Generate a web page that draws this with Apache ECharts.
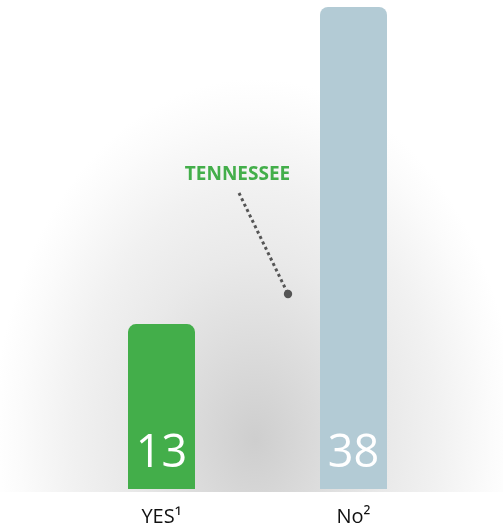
<!DOCTYPE html>
<html>
<head>
<meta charset="utf-8">
<style>
  html, body { margin: 0; padding: 0; background: #ffffff; }
  #chart { width: 503px; height: 531px; }
</style>
<script src="https://cdn.jsdelivr.net/npm/echarts@6/dist/echarts.min.js"></script>
</head>
<body>
<div id="chart"></div>
<script>
// Answer categories (with footnote markers) and counts
const categories = ['YES¹', 'No²'];
const counts = [13, 38];
const barColors = ['#43ae4a', '#b3cbd5'];
const calloutText = 'TENNESSEE';

const FONT = '"Open Sans", "Noto Sans", sans-serif';

const chart = echarts.init(document.getElementById('chart'), null, { renderer: 'canvas' });

const option = {
  animation: false,
  backgroundColor: '#ffffff',
  grid: { left: 65.5, right: 53.5, top: 7, bottom: 42, containLabel: false },
  xAxis: {
    type: 'category',
    data: categories,
    axisLine: { show: false },
    axisTick: { show: false },
    axisLabel: {
      color: '#111111',
      fontFamily: FONT,
      fontSize: 20,
      margin: 18
    }
  },
  yAxis: {
    type: 'value',
    min: 0,
    max: 38,
    show: false,
    splitLine: { show: false }
  },
  graphic: [
    // soft grey glow behind the bars
    {
      type: 'circle',
      z: -20,
      silent: true,
      x: 255,
      y: 440,
      scaleY: 1.38,
      shape: { cx: 0, cy: 0, r: 262 },
      style: {
        fill: {
          type: 'radial', x: 0.5, y: 0.5, r: 0.5,
          colorStops: [
            { offset: 0, color: '#cecece' },
            { offset: 0.5, color: '#e9e9e9' },
            { offset: 0.7, color: '#f1f1f1' },
            { offset: 0.9, color: '#fbfbfb' },
            { offset: 1, color: '#ffffff' }
          ]
        }
      }
    },
    // white strip under the baseline
    {
      type: 'rect',
      z: -10,
      silent: true,
      shape: { x: 0, y: 492, width: 503, height: 40 },
      style: { fill: '#ffffff' }
    },
    // callout label
    {
      type: 'text',
      z: 10,
      x: 237.5,
      y: 175,
      style: {
        text: calloutText,
        fill: '#43ae4a',
        font: 'bold 19px ' + FONT,
        align: 'center',
        verticalAlign: 'middle'
      }
    },
    // dotted leader line
    {
      type: 'line',
      z: 10,
      shape: { x1: 239, y1: 193, x2: 288, y2: 294 },
      style: { stroke: '#555555', lineWidth: 3, lineDash: [3, 3] }
    },
    {
      type: 'circle',
      z: 10,
      shape: { cx: 288, cy: 294, r: 4.2 },
      style: { fill: '#555555' }
    }
  ],
  series: [
    {
      type: 'bar',
      barWidth: 67,
      data: counts.map((v, i) => ({
        value: v,
        itemStyle: { color: barColors[i], borderRadius: [8, 8, 0, 0] }
      })),
      label: {
        show: true,
        position: 'insideBottom',
        distance: 12,
        color: '#ffffff',
        fontFamily: FONT,
        fontWeight: 'normal',
        fontSize: 45
      }
    }
  ]
};

chart.setOption(option);
</script>
</body>
</html>
